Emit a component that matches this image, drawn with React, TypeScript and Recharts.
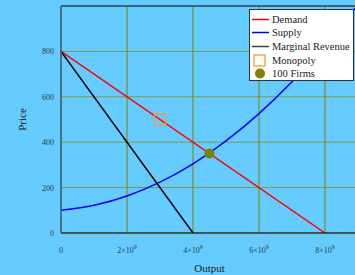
import React from "react";
import {
  ComposedChart,
  Line,
  Scatter,
  XAxis,
  YAxis,
  CartesianGrid,
  ReferenceLine,
} from "recharts";

// Quantities (units of output) and prices
const demandQ = [0, 8e9];
const demandP = [800, 0];
const mrQ = [0, 4e9];
const mrP = [800, 0];
const supplyQ = [0, 1e9, 2e9, 3e9, 4e9, 5e9, 6e9, 7e9, 8e9, 9e9];
const supplyP = [100, 122, 163, 224, 305, 406, 526, 666, 826, 1005];
const monopolyPt = { q: 3e9, p: 500 };
const firmsPt = { q: 4.5e9, p: 350 };
const xTicks = [0, 2e9, 4e9, 6e9, 8e9];
const yTicks = [0, 200, 400, 600, 800];

const demand = demandQ.map((q, i) => ({ q, p: demandP[i] }));
const mr = mrQ.map((q, i) => ({ q, p: mrP[i] }));
const supply = supplyQ.map((q, i) => ({ q, p: supplyP[i] }));

const FONT = "'Liberation Serif', 'DejaVu Serif', serif";
const TICK_COLOR = "#2b3a4a";

const XTick = (props: any) => {
  const { x, y, payload } = props;
  const v = payload.value as number;
  if (v === 0) {
    return (
      <text x={x} y={y + 12} textAnchor="middle" fontSize={8} fill={TICK_COLOR} fontFamily={FONT}>
        0
      </text>
    );
  }
  const m = Math.round(v / 1e9);
  return (
    <text x={x} y={y + 12} textAnchor="middle" fontSize={8} fill={TICK_COLOR} fontFamily={FONT}>
      <tspan>{m}×10</tspan>
      <tspan dy={-4} fontSize={6}>9</tspan>
    </text>
  );
};

const YTick = (props: any) => {
  const { x, y, payload } = props;
  return (
    <text x={x + 1} y={y + 3} textAnchor="end" fontSize={8} fill={TICK_COLOR} fontFamily={FONT}>
      {payload.value}
    </text>
  );
};

const SquareShape = (props: any) => {
  const { cx, cy } = props;
  return <rect x={cx - 5.5} y={cy - 5.5} width={11} height={11} fill="none" stroke="#ff9933" strokeWidth={1.3} />;
};

const CircleShape = (props: any) => {
  const { cx, cy } = props;
  return <circle cx={cx} cy={cy} r={5} fill="#808000" />;
};

const legendRows = [
  { label: "Demand", kind: "line", color: "#ff0000" },
  { label: "Supply", kind: "line", color: "#0000ff" },
  { label: "Marginal Revenue", kind: "line", color: "#404040" },
  { label: "Monopoly", kind: "square", color: "#ff9933" },
  { label: "100 Firms", kind: "circle", color: "#808000" },
];

const LegendBox = () => (
  <div
    style={{
      position: "absolute",
      left: 249,
      top: 9,
      width: 105,
      height: 72,
      background: "#ffffff",
      border: "1px solid #333",
      boxSizing: "border-box",
      fontFamily: FONT,
      fontSize: 10.5,
      color: "#222",
      paddingTop: 2.5,
      overflow: "hidden",
    }}
  >
    {legendRows.map((r) => (
      <div key={r.label} style={{ display: "flex", alignItems: "center", height: 13.6, whiteSpace: "nowrap" }}>
        <svg width={22} height={13} style={{ flex: "none" }}>
          {r.kind === "line" && <line x1={2} y1={6.5} x2={19} y2={6.5} stroke={r.color} strokeWidth={1.5} />}
          {r.kind === "square" && (
            <rect x={4} y={1} width={11} height={11} fill="none" stroke={r.color} strokeWidth={1.3} />
          )}
          {r.kind === "circle" && <circle cx={10} cy={6.5} r={5} fill={r.color} />}
        </svg>
        <span>{r.label}</span>
      </div>
    ))}
  </div>
);

export default function App() {
  return (
    <div
      style={{
        position: "absolute",
        left: 0,
        top: 0,
        width: 355,
        height: 275,
        overflow: "hidden",
        background: "#66ccff",
      }}
    >
      <ComposedChart width={360} height={275} margin={{ top: 6, right: 2, bottom: 0, left: 0 }}>
        <CartesianGrid horizontal={true} vertical={false} stroke="#7f9a4a" strokeWidth={1} />
        <CartesianGrid horizontal={false} vertical={true} stroke="#808000" strokeWidth={1} />
        <XAxis
          type="number"
          dataKey="q"
          domain={[0, 9e9]}
          ticks={xTicks}
          interval={0}
          tick={<XTick />}
          tickLine={false}
          axisLine={{ stroke: "#000000", strokeWidth: 1.2 }}
          height={42}
          allowDataOverflow
          label={{ value: "Output", position: "insideBottom", offset: 3, fontSize: 11, fill: "#222", fontFamily: FONT }}
        />
        <YAxis
          type="number"
          dataKey="p"
          domain={[0, 1000]}
          ticks={yTicks}
          interval={0}
          tick={<YTick />}
          tickLine={false}
          axisLine={{ stroke: "#3d6080", strokeWidth: 1.5 }}
          width={61}
          allowDataOverflow
          label={{ value: "Price", angle: -90, position: "insideLeft", offset: 22, textAnchor: "middle", fontSize: 11, fill: "#222", fontFamily: FONT }}
        />
        <ReferenceLine y={1000} stroke="#3d6080" strokeWidth={2} />
        <Line data={demand} dataKey="p" stroke="#ff0000" strokeWidth={1.5} dot={false} isAnimationActive={false} type="linear" />
        <Line data={supply} dataKey="p" stroke="#0000ff" strokeWidth={1.5} dot={false} isAnimationActive={false} type="monotone" />
        <Line data={mr} dataKey="p" stroke="#000000" strokeWidth={1.5} dot={false} isAnimationActive={false} type="linear" />
        <Scatter data={[monopolyPt]} dataKey="p" shape={<SquareShape />} isAnimationActive={false} />
        <Scatter data={[firmsPt]} dataKey="p" shape={<CircleShape />} isAnimationActive={false} />
      </ComposedChart>
      <LegendBox />
    </div>
  );
}
